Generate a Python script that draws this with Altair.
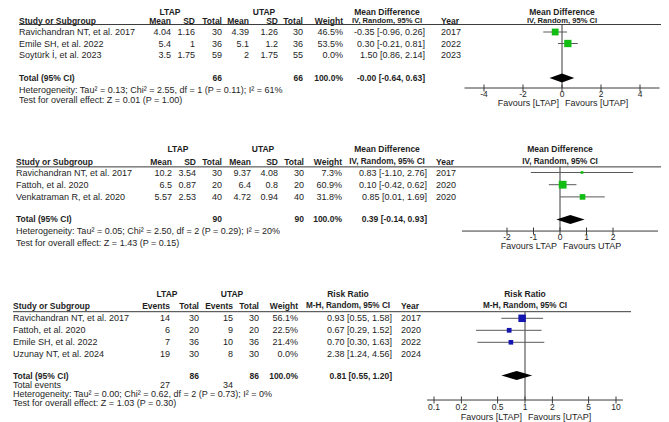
import altair as alt
import pandas as pd

# ======================= DATA =======================
# Panel 1 - Mean Difference (IV, Random, 95% CI)
p1_studies = ["Ravichandran NT, et al. 2017", "Emile SH, et al. 2022", "Soytürk İ, et al. 2023"]
p1_mean1 = [4.04, 5.4, 3.5]
p1_sd1 = [1.16, 1, 1.75]
p1_n1 = [30, 36, 59]
p1_mean2 = [4.39, 5.1, 2]
p1_sd2 = [1.26, 1.2, 1.75]
p1_n2 = [30, 36, 55]
p1_weight = [46.5, 53.5, 0.0]
p1_est = [-0.35, 0.30, 1.50]
p1_lo = [-0.96, -0.21, 0.86]
p1_hi = [0.26, 0.81, 2.14]
p1_year = [2017, 2022, 2023]
p1_totals = [66, 66]
p1_pooled = [-0.0, -0.64, 0.63]
p1_het = "Heterogeneity: Tau² = 0.13; Chi² = 2.55, df = 1 (P = 0.11); I² = 61%"
p1_test = "Test for overall effect: Z = 0.01 (P = 1.00)"
p1_ticks = [-4, -2, 0, 2, 4]
p1_favours = ["Favours [LTAP]", "Favours [UTAP]"]

# Panel 2 - Mean Difference (IV, Random, 95% CI)
p2_studies = ["Ravichandran NT, et al. 2017", "Fattoh, et al. 2020", "Venkatraman R, et al. 2020"]
p2_mean1 = [10.2, 6.5, 5.57]
p2_sd1 = [3.54, 0.87, 2.53]
p2_n1 = [30, 20, 40]
p2_mean2 = [9.37, 6.4, 4.72]
p2_sd2 = [4.08, 0.8, 0.94]
p2_n2 = [30, 20, 40]
p2_weight = [7.3, 60.9, 31.8]
p2_est = [0.83, 0.10, 0.85]
p2_lo = [-1.10, -0.42, 0.01]
p2_hi = [2.76, 0.62, 1.69]
p2_year = [2017, 2020, 2020]
p2_totals = [90, 90]
p2_pooled = [0.39, -0.14, 0.93]
p2_het = "Heterogeneity: Tau² = 0.05; Chi² = 2.50, df = 2 (P = 0.29); I² = 20%"
p2_test = "Test for overall effect: Z = 1.43 (P = 0.15)"
p2_ticks = [-2, -1, 0, 1, 2]
p2_favours = ["Favours LTAP", "Favours UTAP"]

# Panel 3 - Risk Ratio (M-H, Random, 95% CI)
p3_studies = ["Ravichandran NT, et al. 2017", "Fattoh, et al. 2020", "Emile SH, et al. 2022", "Uzunay NT, et al. 2024"]
p3_ev1 = [14, 6, 7, 19]
p3_n1 = [30, 20, 36, 30]
p3_ev2 = [15, 9, 10, 8]
p3_n2 = [30, 20, 36, 30]
p3_weight = [56.1, 22.5, 21.4, 0.0]
p3_est = [0.93, 0.67, 0.70, 2.38]
p3_lo = [0.55, 0.29, 0.30, 1.24]
p3_hi = [1.58, 1.52, 1.63, 4.56]
p3_year = [2017, 2020, 2022, 2024]
p3_totals = [86, 86]
p3_events = [27, 34]
p3_pooled = [0.81, 0.55, 1.20]
p3_het = "Heterogeneity: Tau² = 0.00; Chi² = 0.62, df = 2 (P = 0.73); I² = 0%"
p3_test = "Test for overall effect: Z = 1.03 (P = 0.30)"
p3_ticks = [0.1, 0.2, 0.5, 1, 2, 5, 10]
p3_favours = ["Favours [LTAP]", "Favours [UTAP]"]

# ======================= STYLE / LAYOUT =======================
FONT = "Liberation Sans"
FS = 9          # body text
FSB = 8.5       # bold headers
FST = 8.5       # axis tick labels
INK = "#1e1e1e"
LINE = "#3a3a3a"
CI_COL = "#5a5a5a"
GREEN = "#14bd14"
BLUE = "#1515b0"
W, H = 653, 414
M = 8  # page margin

XPX = alt.Scale(domain=[0, W], range=[0, W])

# vertical layout: row-slot -> pixel (base + sp*slot)
L1 = dict(base=9.0, sp=11.5, head1=0.24, head2=1.0, rule=1.35, total=6.0, het=7.05, test=7.9,
          axis=6.87, tlab=7.35, fav=8.2, fs_sub=7.6)
L2 = dict(base=148.1, sp=12.2, head1=0.07, head2=1.11, rule=1.54, total=5.85, het=6.8, test=7.74,
          axis=6.8, tlab=7.25, fav=8.05, fs_sub=8.2)
L3 = dict(base=294.3, sp=12.0, head1=0.0, head2=0.98, rule=1.45, total=6.77, events=7.56, het=8.31,
          test=9.06, axis=8.81, tlab=9.35, fav=10.2, fs_sub=8.2)

# horizontal layout: column anchors (page px)
C1 = dict(study=19, m1=171, s1=195, n1=222, m2=249, s2=278, n2=303, w=343, ci=425, yr=441,
          g1=170, g2=264, cih=387, rule_r=663)
C2 = dict(study=16, m1=172, s1=196, n1=222, m2=251, s2=278, n2=304, w=342, ci=427, yr=436,
          g1=178, g2=263, cih=387, rule_r=665)
C3 = dict(study=13, e1=170, n1=199, e2=233, n2=259, w=298, ci=392, yr=401,
          g1=167, g2=232, cih=348, rule_r=631)

# forest x layout: null line pixel, px per unit, axis extent
F1 = dict(null=0, zero_px=562, ppu=19.5, ax=[-5, 5], log=False, color=GREEN)
F2 = dict(null=0, zero_px=560, ppu=26.5, ax=[-3.7, 3.7], log=False, color=GREEN)
F3 = dict(null=1, zero_px=525, ppu=91.0, ax=[0.084, 11.9], log=True, color=BLUE)

layers = []


def ysc(L):
    return alt.Scale(domain=[0, 10], range=[L["base"] - M, L["base"] - M + 10 * L["sp"]])


def fxsc(F):
    if F["log"]:
        return alt.Scale(type="log", domain=[0.1, 10],
                         range=[F["zero_px"] - F["ppu"] - M, F["zero_px"] + F["ppu"] - M])
    a, b = F["ax"]
    return alt.Scale(domain=[a, b],
                     range=[F["zero_px"] + a * F["ppu"] - M, F["zero_px"] + b * F["ppu"] - M])


def g(v):
    return f"{v:g}"


def ci_txt(e, l, h):
    return f"{e:.2f} [{l:.2f}, {h:.2f}]"


def add_texts(cells, L, align, bold, fs=None):
    if not cells:
        return
    if fs is None:
        fs = FSB if bold else FS
    df = pd.DataFrame([{"x": x - M, "slot": s, "text": str(t)} for x, s, t in cells])
    layers.append(
        alt.Chart(df).mark_text(align=align, baseline="middle", font=FONT, fontSize=fs,
                                fontWeight="bold" if bold else "normal", color=INK)
        .encode(x=alt.X("x:Q", scale=XPX, axis=None),
                y=alt.Y("slot:Q", scale=ysc(L), axis=None),
                text="text:N"))


def add_header_rule(L, C):
    df = pd.DataFrame({"a": [C["study"] - M], "b": [min(C["rule_r"] - M, W)], "slot": [L["rule"]]})
    layers.append(alt.Chart(df).mark_rule(color=LINE, strokeWidth=1).encode(
        x=alt.X("a:Q", scale=XPX, axis=None), x2="b:Q",
        y=alt.Y("slot:Q", scale=ysc(L), axis=None)))


def ftext(df, xs, ys, field, align="center", bold=False, fs=FS, dx=0):
    return alt.Chart(df).mark_text(align=align, baseline="middle", font=FONT, fontSize=fs,
                                   fontWeight="bold" if bold else "normal", color=INK, dx=dx).encode(
        x=alt.X("x:Q", scale=xs, axis=None), y=alt.Y("slot:Q", scale=ys, axis=None), text=f"{field}:N")


def add_forest(L, F, est, lo, hi, w, pooled, ticks, favours, head):
    xs = fxsc(F)
    ys = ysc(L)
    n = len(est)
    rows = pd.DataFrame({"slot": [2 + i for i in range(n)], "est": est, "lo": lo, "hi": hi, "w": w})
    shown = rows[rows["w"] > 0]
    # forest header
    layers.append(ftext(pd.DataFrame({"x": [F["null"]], "slot": [L["head1"]], "t": [head[0]]}),
                        xs, ys, "t", bold=True, fs=FSB))
    layers.append(ftext(pd.DataFrame({"x": [F["null"]], "slot": [L["head2"]], "t": [head[1]]}),
                        xs, ys, "t", bold=True, fs=L["fs_sub"]))
    # null line
    nl = pd.DataFrame({"x": [F["null"]], "y0": [L["rule"]], "y1": [L["axis"]]})
    layers.append(alt.Chart(nl).mark_rule(color=LINE, strokeWidth=1).encode(
        x=alt.X("x:Q", scale=xs, axis=None), y=alt.Y("y0:Q", scale=ys, axis=None), y2="y1:Q"))
    # CI lines
    layers.append(alt.Chart(shown).mark_rule(color=CI_COL, strokeWidth=1).encode(
        x=alt.X("lo:Q", scale=xs, axis=None), x2="hi:Q", y=alt.Y("slot:Q", scale=ys, axis=None)))
    # squares sized by weight
    layers.append(alt.Chart(shown).mark_square(filled=True, color=F["color"], opacity=1).encode(
        x=alt.X("est:Q", scale=xs, axis=None), y=alt.Y("slot:Q", scale=ys, axis=None),
        size=alt.Size("w:Q", scale=alt.Scale(domain=[0, 100], range=[0, 100]), legend=None)))
    # pooled diamond
    c = L["total"]
    hh = 4.5 / L["sp"]
    dm = pd.DataFrame({"x": [pooled[1], pooled[0], pooled[2]],
                       "y": [c, c - hh, c], "y2": [c, c + hh, c]})
    layers.append(alt.Chart(dm).mark_area(orient="vertical", color="black", opacity=1).encode(
        x=alt.X("x:Q", scale=xs, axis=None), y=alt.Y("y:Q", scale=ys, axis=None), y2="y2:Q"))
    # axis line
    ax = pd.DataFrame({"a": [F["ax"][0]], "b": [F["ax"][1]], "slot": [L["axis"]]})
    layers.append(alt.Chart(ax).mark_rule(color=LINE, strokeWidth=1).encode(
        x=alt.X("a:Q", scale=xs, axis=None), x2="b:Q", y=alt.Y("slot:Q", scale=ys, axis=None)))
    # ticks + labels
    tl = 3.5 / L["sp"]
    tk = pd.DataFrame({"x": ticks, "y0": [L["axis"] - tl] * len(ticks), "y1": [L["axis"] + tl] * len(ticks),
                       "label": [g(t) for t in ticks], "slot": [L["tlab"]] * len(ticks)})
    layers.append(alt.Chart(tk).mark_rule(color=LINE, strokeWidth=1).encode(
        x=alt.X("x:Q", scale=xs, axis=None), y=alt.Y("y0:Q", scale=ys, axis=None), y2="y1:Q"))
    layers.append(ftext(tk, xs, ys, "label", fs=FST))
    # favours labels
    fv = pd.DataFrame({"x": [F["null"]], "slot": [L["fav"]], "left": [favours[0]], "right": [favours[1]]})
    layers.append(ftext(fv, xs, ys, "left", align="right", dx=-3))
    layers.append(ftext(fv, xs, ys, "right", align="left", dx=3))


def md_panel(L, C, F, studies, m1, s1, n1, m2, s2, n2, w, est, lo, hi, yr, totals, pooled, het, test,
             ticks, favours):
    bold_c = [(C["g1"], L["head1"], "LTAP"), (C["g2"], L["head1"], "UTAP"),
              (C["cih"], L["head1"], "Mean Difference")]
    sub_c = [(C["cih"], L["head2"], "IV, Random, 95% CI")]
    bold_l = [(C["study"], L["head2"], "Study or Subgroup"), (C["yr"], L["head2"], "Year")]
    bold_r = []
    norm_l, norm_r = [], []
    for k, lab in [("m1", "Mean"), ("s1", "SD"), ("n1", "Total"), ("m2", "Mean"), ("s2", "SD"),
                   ("n2", "Total"), ("w", "Weight")]:
        bold_r.append((C[k], L["head2"], lab))
    for i in range(len(studies)):
        s = 2 + i
        norm_l += [(C["study"], s, studies[i]), (C["yr"], s, yr[i])]
        norm_r += [(C["m1"], s, g(m1[i])), (C["s1"], s, g(s1[i])), (C["n1"], s, n1[i]),
                   (C["m2"], s, g(m2[i])), (C["s2"], s, g(s2[i])), (C["n2"], s, n2[i]),
                   (C["w"], s, f"{w[i]:.1f}%"), (C["ci"], s, ci_txt(est[i], lo[i], hi[i]))]
    bold_l.append((C["study"], L["total"], "Total (95% CI)"))
    bold_r += [(C["n1"], L["total"], totals[0]), (C["n2"], L["total"], totals[1]),
               (C["w"], L["total"], "100.0%"), (C["ci"], L["total"], ci_txt(*pooled))]
    norm_l += [(C["study"], L["het"], het), (C["study"], L["test"], test)]
    add_texts(bold_c, L, "center", True)
    add_texts(sub_c, L, "center", True, L["fs_sub"])
    add_texts(bold_l, L, "left", True)
    add_texts(bold_r, L, "right", True)
    add_texts(norm_l, L, "left", False)
    add_texts(norm_r, L, "right", False)
    add_header_rule(L, C)
    add_forest(L, F, est, lo, hi, w, pooled, ticks, favours, ["Mean Difference", "IV, Random, 95% CI"])


md_panel(L1, C1, F1, p1_studies, p1_mean1, p1_sd1, p1_n1, p1_mean2, p1_sd2, p1_n2, p1_weight,
         p1_est, p1_lo, p1_hi, p1_year, p1_totals, p1_pooled, p1_het, p1_test, p1_ticks, p1_favours)
md_panel(L2, C2, F2, p2_studies, p2_mean1, p2_sd1, p2_n1, p2_mean2, p2_sd2, p2_n2, p2_weight,
         p2_est, p2_lo, p2_hi, p2_year, p2_totals, p2_pooled, p2_het, p2_test, p2_ticks, p2_favours)

# Panel 3 table
L, C = L3, C3
bold_c = [(C["g1"], L["head1"], "LTAP"), (C["g2"], L["head1"], "UTAP"),
          (C["cih"], L["head1"], "Risk Ratio")]
sub_c = [(C["cih"], L["head2"], "M-H, Random, 95% CI")]
bold_l = [(C["study"], L["head2"], "Study or Subgroup"), (C["yr"], L["head2"], "Year"),
          (C["study"], L["total"], "Total (95% CI)")]
bold_r = [(C[k], L["head2"], lab) for k, lab in [("e1", "Events"), ("n1", "Total"), ("e2", "Events"),
                                                 ("n2", "Total"), ("w", "Weight")]]
bold_r += [(C["n1"], L["total"], p3_totals[0]), (C["n2"], L["total"], p3_totals[1]),
           (C["w"], L["total"], "100.0%"), (C["ci"], L["total"], ci_txt(*p3_pooled))]
norm_l, norm_r = [], []
for i in range(len(p3_studies)):
    s = 2 + i
    norm_l += [(C["study"], s, p3_studies[i]), (C["yr"], s, p3_year[i])]
    norm_r += [(C["e1"], s, p3_ev1[i]), (C["n1"], s, p3_n1[i]), (C["e2"], s, p3_ev2[i]),
               (C["n2"], s, p3_n2[i]), (C["w"], s, f"{p3_weight[i]:.1f}%"),
               (C["ci"], s, ci_txt(p3_est[i], p3_lo[i], p3_hi[i]))]
norm_l += [(C["study"], L["events"], "Total events"), (C["study"], L["het"], p3_het),
           (C["study"], L["test"], p3_test)]
norm_r += [(C["e1"], L["events"], p3_events[0]), (C["e2"], L["events"], p3_events[1])]
add_texts(bold_c, L, "center", True)
add_texts(sub_c, L, "center", True, L["fs_sub"])
add_texts(bold_l, L, "left", True)
add_texts(bold_r, L, "right", True)
add_texts(norm_l, L, "left", False)
add_texts(norm_r, L, "right", False)
add_header_rule(L, C)
add_forest(L3, F3, p3_est, p3_lo, p3_hi, p3_weight, p3_pooled, p3_ticks, p3_favours,
           ["Risk Ratio", "M-H, Random, 95% CI"])

chart = (
    alt.layer(*layers)
    .resolve_scale(x="independent", y="independent", size="independent")
    .properties(width=W, height=H, padding=0, autosize=alt.AutoSizeParams(type="none"),
                background="white")
    .configure_view(stroke=None)
)

chart.save("out.html", embed_options={"renderer": "svg", "actions": False})
